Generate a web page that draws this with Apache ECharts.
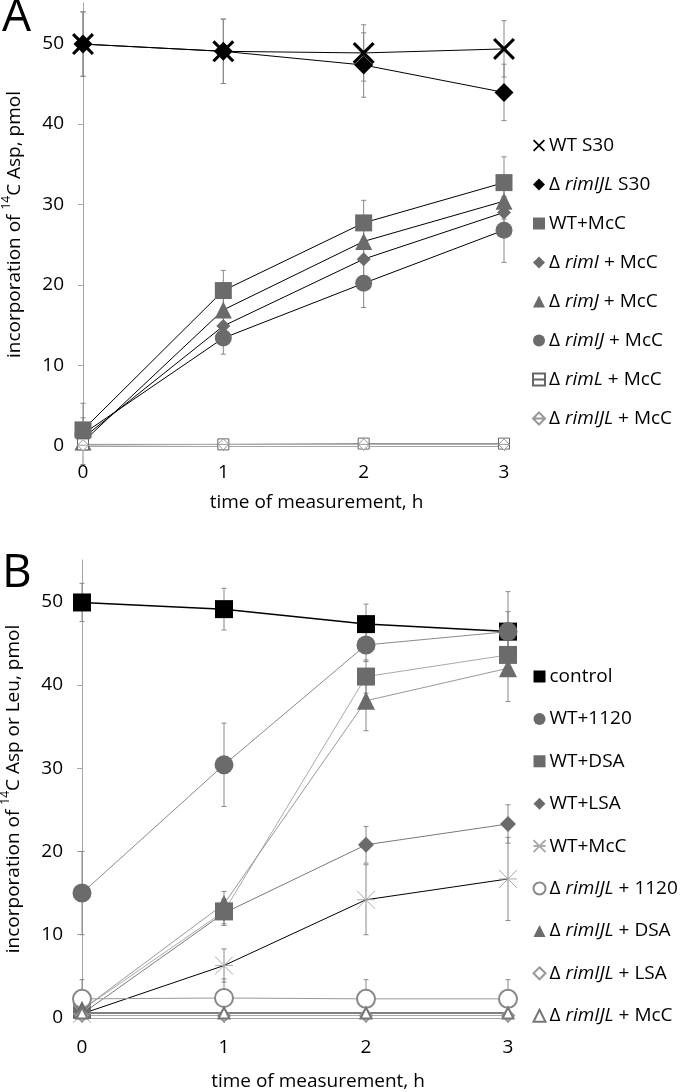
<!DOCTYPE html>
<html><head><meta charset="utf-8">
<script src="https://cdn.jsdelivr.net/npm/echarts@6/dist/echarts.min.js"></script>
<style>html,body{margin:0;padding:0;background:#fff}#c{width:680px;height:1092px}</style>
</head><body><div id="c"></div>
<script>
// ---------- DATA ----------
const timesA = [0, 1, 2, 3];
const timesB = [0, 1, 2, 3];
const yTicks = [0, 10, 20, 30, 40, 50];

// Panel A
const namesA = ['WT S30', 'Δ {i|rimIJL} S30', 'WT+McC', 'Δ {i|rimI} + McC', 'Δ {i|rimJ} + McC', 'Δ {i|rimIJ} + McC', 'Δ {i|rimL} + McC', 'Δ {i|rimIJL} + McC'];
const wtS30 = [49.9, 49.0, 48.8, 49.3];
const rimIJLS30 = [49.9, 49.0, 47.3, 43.9];
const wtMcC_A = [2.0, 19.3, 27.7, 32.7];
const rimIMcC = [1.0, 14.9, 23.2, 29.0];
const rimJMcC = [0.5, 16.9, 25.4, 30.4];
const rimIJMcC = [1.5, 13.4, 20.2, 26.8];
const rimLMcC = [0.2, 0.2, 0.3, 0.3];
const rimIJLMcC_A = [0.1, 0.2, 0.2, 0.2];
const err_wtS30 = [4, 4, 3.5, 3.5];
const err_rimIJLS30 = [4, 4, 4, 3.5];
const err_wtMcC_A = [1.5, 2.5, 2.8, 3.2];
const err_rimIMcC = [1, 1.8, 2.2, 2];
const err_rimJMcC = [0.8, 2, 2.5, 2.2];
const err_rimIJMcC = [3.8, 2, 3, 4];
const err_rimLMcC = [0.3, 0.3, 0.3, 0.3];
const err_rimIJLMcC_A = [0.3, 0.3, 0.3, 0.3];

// Panel B
const namesB = ['control', 'WT+1120', 'WT+DSA', 'WT+LSA', 'WT+McC', 'Δ {i|rimIJL} + 1120', 'Δ {i|rimIJL} + DSA', 'Δ {i|rimIJL} + LSA', 'Δ {i|rimIJL} + McC'];
const control = [49.9, 49.1, 47.3, 46.4];
const wt1120 = [15.0, 30.4, 44.8, 46.4];
const wtDSA = [1.0, 12.8, 41.0, 43.6];
const wtLSA = [0.5, 12.6, 20.8, 23.3];
const wtMcC_B = [0.5, 6.3, 14.2, 16.7];
const rim1120 = [2.3, 2.4, 2.3, 2.3];
const rimDSA = [1.0, 13.7, 38.1, 42.0];
const rimLSA = [0.3, 0.3, 0.3, 0.3];
const rimMcC_B = [0.6, 0.6, 0.6, 0.6];
const err_control = [2.3, 2.5, 2.4, 2.4];
const err_wt1120 = [5, 5, 2, 4.8];
const err_wtDSA = [1, 1.5, 2, 2];
const err_wtLSA = [0.5, 1.5, 2.2, 2.3];
const err_wtMcC_B = [0.5, 2, 4.2, 5];
const err_rim1120 = [2.3, 2.3, 2.3, 2.3];
const err_rimDSA = [0.5, 1.5, 3.6, 4];
const err_rimLSA = [0.2, 0.2, 0.2, 0.2];
const err_rimMcC_B = [0.2, 0.2, 0.2, 0.2];

// ---------- CHART ----------
const FONT = 'Open Sans';
const FS = 19;
const GRAY = '#6b6b6b';
const AXC = '#a6a6a6';
const chart = echarts.init(document.getElementById('c'), null, {renderer: 'canvas'});

function pts(xs, ys) { return xs.map((x, i) => [x, ys[i]]); }
function errPts(xs, ys, es) { return xs.map((x, i) => [x, ys[i] - es[i], ys[i] + es[i]]); }

function lineSeries(gi, name, xs, ys, symbol, size, fill, border, lineColor, lw) {
  const isEmpty = typeof symbol === 'string' && symbol.indexOf('empty') === 0;
  return {
    type: 'line', name: name, xAxisIndex: gi, yAxisIndex: gi,
    data: pts(xs, ys), symbol: symbol, symbolSize: size, showAllSymbol: true,
    itemStyle: isEmpty ? {color: border, borderColor: border, borderWidth: 1, opacity: 1}
                       : {color: fill, borderColor: border, borderWidth: border === fill ? 0 : 1, opacity: 1},
    lineStyle: {color: lineColor, width: lw || 1},
    emphasis: {disabled: true}, animation: false, z: 3
  };
}
function errSeries(gi, xs, ys, es, color) {
  return {
    type: 'custom', xAxisIndex: gi, yAxisIndex: gi, data: errPts(xs, ys, es), z: 2, animation: false,
    renderItem: function (params, api) {
      const x = api.value(0);
      const lo = api.coord([x, api.value(1)]);
      const hi = api.coord([x, api.value(2)]);
      const w = 2.5;
      const st = {stroke: color, lineWidth: 1};
      return {type: 'group', children: [
        {type: 'line', shape: {x1: lo[0], y1: lo[1], x2: hi[0], y2: hi[1]}, style: st},
        {type: 'line', shape: {x1: lo[0] - w, y1: lo[1], x2: lo[0] + w, y2: lo[1]}, style: st},
        {type: 'line', shape: {x1: hi[0] - w, y1: hi[1], x2: hi[0] + w, y2: hi[1]}, style: st}
      ]};
    }
  };
}

const X_PATH = 'path://M0,2 L2,0 L10,8 L18,0 L20,2 L12,10 L20,18 L18,20 L10,12 L2,20 L0,18 L8,10 Z';
const SQ_LINE = 'path://M0,0 L10,0 L10,10 L0,10 Z M0,5 L10,5';
const DI_LINE = 'path://M5,0 L10,5 L5,10 L0,5 Z M0,5 L10,5';
const STAR = 'path://M0,0 L10,10 M10,0 L0,10 M0,5 L10,5';

function xAxis(gi, gap, margin) {
  return {
    gridIndex: gi, type: 'value', min: 0, max: 3, interval: 1,
    axisLine: {show: true, onZero: false, lineStyle: {color: AXC, width: 1}},
    axisTick: {show: true, length: 5, lineStyle: {color: AXC}},
    splitLine: {show: false},
    axisLabel: {fontSize: FS, color: '#000', margin: margin, fontFamily: FONT},
    name: 'time of measurement, h', nameLocation: 'middle', nameGap: gap,
    nameTextStyle: {fontSize: FS, color: '#000', fontFamily: FONT, padding: [0, 0, 0, 46]}
  };
}
function yAxis(gi, title) {
  return {
    gridIndex: gi, type: 'value', min: 0, max: 55, interval: 10,
    axisLine: {show: true, lineStyle: {color: AXC, width: 1}},
    axisTick: {show: true, length: 5, lineStyle: {color: AXC}},
    splitLine: {show: false},
    axisLabel: {fontSize: FS, color: '#000', margin: 19, fontFamily: FONT, showMaxLabel: false,
      formatter: v => (v % 10 === 0 ? String(v) : '')},
    name: title, nameLocation: 'middle', nameGap: 54, nameRotate: 90,
    nameTextStyle: {fontSize: FS, color: '#000', fontFamily: FONT,
      rich: {sup: {fontSize: 12, fontFamily: FONT, color: '#000', verticalAlign: 'top', lineHeight: 28, padding: [0, 0, 9, 0]}, n: {fontSize: FS, fontFamily: FONT, color: '#000'}}}
  };
}

const richItalic = {i: {fontStyle: 'italic', fontSize: FS, fontFamily: FONT, color: '#000'}};
const stripPrefix = n => n.replace(/^[AB]:/, '');

const seriesA = [
  lineSeries(0, 'A:' + namesA[0], timesA, wtS30, X_PATH, 22, '#000', '#000', '#000'),
  lineSeries(0, 'A:' + namesA[1], timesA, rimIJLS30, 'diamond', 19, '#000', '#000', '#000'),
  lineSeries(0, 'A:' + namesA[2], timesA, wtMcC_A, 'rect', 17, GRAY, GRAY, '#000'),
  lineSeries(0, 'A:' + namesA[3], timesA, rimIMcC, 'diamond', 14, GRAY, GRAY, '#000'),
  lineSeries(0, 'A:' + namesA[4], timesA, rimJMcC, 'triangle', 17, GRAY, GRAY, '#000'),
  lineSeries(0, 'A:' + namesA[5], timesA, rimIJMcC, 'circle', 17, GRAY, GRAY, '#000'),
  lineSeries(0, 'A:' + namesA[6], timesA, rimLMcC, SQ_LINE, 11, '#fff', '#666', '#888'),
  lineSeries(0, 'A:' + namesA[7], timesA, rimIJLMcC_A, DI_LINE, 11, '#fff', '#999', '#aaa')
];
const errA = [
  errSeries(0, timesA, wtS30, err_wtS30, '#888'),
  errSeries(0, timesA, rimIJLS30, err_rimIJLS30, '#888'),
  errSeries(0, timesA, wtMcC_A, err_wtMcC_A, '#888'),
  errSeries(0, timesA, rimIMcC, err_rimIMcC, '#888'),
  errSeries(0, timesA, rimJMcC, err_rimJMcC, '#888'),
  errSeries(0, timesA, rimIJMcC, err_rimIJMcC, '#888'),
  errSeries(0, timesA, rimLMcC, err_rimLMcC, '#888'),
  errSeries(0, timesA, rimIJLMcC_A, err_rimIJLMcC_A, '#888')
];
const seriesB = [
  lineSeries(1, 'B:' + namesB[0], timesB, control, 'rect', 18, '#000', '#000', '#000', 1.5),
  lineSeries(1, 'B:' + namesB[1], timesB, wt1120, 'circle', 19, GRAY, GRAY, '#8a8a8a'),
  lineSeries(1, 'B:' + namesB[2], timesB, wtDSA, 'rect', 18, GRAY, GRAY, '#aaaaaa'),
  lineSeries(1, 'B:' + namesB[3], timesB, wtLSA, 'diamond', 16, GRAY, GRAY, '#7a7a7a'),
  lineSeries(1, 'B:' + namesB[4], timesB, wtMcC_B, STAR, 18, 'none', '#aaa', '#000'),
  lineSeries(1, 'B:' + namesB[5], timesB, rim1120, 'emptyCircle', 18, '#fff', '#888', '#999'),
  lineSeries(1, 'B:' + namesB[6], timesB, rimDSA, 'triangle', 18, GRAY, GRAY, '#999'),
  lineSeries(1, 'B:' + namesB[7], timesB, rimLSA, 'emptyDiamond', 12, '#fff', '#999', '#aaa'),
  lineSeries(1, 'B:' + namesB[8], timesB, rimMcC_B, 'emptyTriangle', 11, '#fff', '#777', '#000')
];
const errB = [
  errSeries(1, timesB, control, err_control, '#888'),
  errSeries(1, timesB, wt1120, err_wt1120, '#888'),
  errSeries(1, timesB, wtDSA, err_wtDSA, '#888'),
  errSeries(1, timesB, wtLSA, err_wtLSA, '#888'),
  errSeries(1, timesB, wtMcC_B, err_wtMcC_B, '#888'),
  errSeries(1, timesB, rim1120, err_rim1120, '#888'),
  errSeries(1, timesB, rimDSA, err_rimDSA, '#888'),
  errSeries(1, timesB, rimLSA, err_rimLSA, '#888'),
  errSeries(1, timesB, rimMcC_B, err_rimMcC_B, '#888')
];

const legendText = {fontSize: FS, lineHeight: 16, color: '#000', fontFamily: FONT, padding: [0, 0, 0, -3], rich: richItalic};
const option = {
  backgroundColor: '#fff',
  animation: false,
  textStyle: {fontFamily: FONT},
  title: [
    {text: 'A', left: -3, top: -10, textStyle: {fontSize: 46, fontWeight: 'normal', color: '#000', fontFamily: FONT}},
    {text: 'B', left: -3, top: 546, textStyle: {fontSize: 46, fontWeight: 'normal', color: '#000', fontFamily: FONT}}
  ],
  grid: [
    {left: 83, top: 3, width: 421, height: 443, containLabel: false, outerBoundsMode: 'none'},
    {left: 82, top: 560, width: 426, height: 458, containLabel: false, outerBoundsMode: 'none'}
  ],
  xAxis: [xAxis(0, 47, 17), xAxis(1, 54, 20)],
  yAxis: [
    yAxis(0, '{n|incorporation of }{sup|14}{n|C Asp, pmol}'),
    yAxis(1, '{n|incorporation of }{sup|14}{n|C Asp or Leu, pmol}')
  ],
  legend: [
    {data: namesA.map(n => 'A:' + n), formatter: stripPrefix, orient: 'vertical', left: 526, top: 131, itemWidth: 16, itemHeight: 15, itemGap: 20,
      selectedMode: false, lineStyle: {width: 0, opacity: 0}, textStyle: legendText},
    {data: namesB.map(n => 'B:' + n), formatter: stripPrefix, orient: 'vertical', left: 526, top: 662, itemWidth: 16, itemHeight: 15, itemGap: 23.4,
      selectedMode: false, lineStyle: {width: 0, opacity: 0}, textStyle: legendText}
  ],
  series: [].concat(errA, seriesA, errB, seriesB)
};
chart.setOption(option);
</script></body></html>
